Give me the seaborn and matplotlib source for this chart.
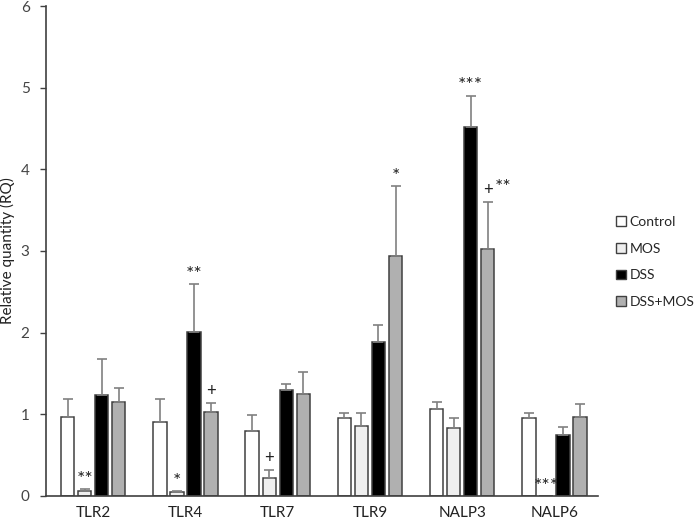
import pandas as pd
import numpy as np
import matplotlib.pyplot as plt
import seaborn as sns
from matplotlib.patches import Patch

genes = ['TLR2', 'TLR4', 'TLR7', 'TLR9', 'NALP3', 'NALP6']
groups = ['Control', 'MOS', 'DSS', 'DSS+MOS']

control = [0.97, 0.90, 0.79, 0.96, 1.06, 0.96]
mos = [0.06, 0.05, 0.22, 0.85, 0.83, 0.0]
dss = [1.24, 2.01, 1.30, 1.88, 4.52, 0.75]
dss_mos = [1.15, 1.03, 1.25, 2.94, 3.02, 0.97]

control_err = [0.22, 0.29, 0.20, 0.05, 0.09, 0.06]
mos_err = [0.02, 0.01, 0.10, 0.16, 0.12, 0.0]
dss_err = [0.44, 0.58, 0.07, 0.21, 0.38, 0.09]
dss_mos_err = [0.17, 0.11, 0.27, 0.85, 0.58, 0.16]

# significance marks, per group then gene
control_sig = ['', '', '', '', '', '']
mos_sig = ['**', '*', '+', '', '', '***']
dss_sig = ['', '**', '', '', '***', '']
dss_mos_sig = ['', '+', '', '*', '+ **', '']

colors = ['#ffffff', '#efefef', '#000000', '#b0b0b0']

values = [control, mos, dss, dss_mos]
errors = [control_err, mos_err, dss_err, dss_mos_err]
sigs = [control_sig, mos_sig, dss_sig, dss_mos_sig]

rows = []
for g, vals in zip(groups, values):
    for gene, v in zip(genes, vals):
        rows.append({'gene': gene, 'group': g, 'RQ': v})
df = pd.DataFrame(rows)

sns.set_style('white')
plt.rcParams['font.family'] = ['Lato', 'DejaVu Sans']

fig = plt.figure(figsize=(7, 5.22), dpi=100)
ax = fig.add_axes([0.066, 0.05, 0.788, 0.9385])

sns.barplot(data=df, x='gene', y='RQ', hue='group', hue_order=groups,
            palette=colors, width=0.74, gap=0.22, errorbar=None,
            edgecolor='#404040', linewidth=1.1, legend=False, ax=ax)


def put_mark(xc, y, m):
    # stars drawn a bit bigger, "+" normal size
    if m.startswith('+ '):
        ax.annotate('+', (xc, y), xytext=(0, 3), textcoords='offset points',
                    ha='center', va='bottom', fontsize=12, color='#222222')
        ax.annotate(m[2:], (xc, y), xytext=(5, 4), textcoords='offset points',
                    ha='left', va='bottom', fontsize=14, color='#222222')
    elif m.startswith('*'):
        ax.annotate(m, (xc, y), xytext=(0, 1), textcoords='offset points',
                    ha='center', va='bottom', fontsize=14, color='#222222')
    else:
        ax.annotate(m, (xc, y), xytext=(0, 3), textcoords='offset points',
                    ha='center', va='bottom', fontsize=12, color='#222222')


for cont, errs, marks in zip(ax.containers, errors, sigs):
    for bar, e, m in zip(cont.patches, errs, marks):
        xc = bar.get_x() + bar.get_width() / 2
        h = bar.get_height()
        if e > 0:
            ax.errorbar(xc, h, yerr=[[0], [e]], fmt='none', ecolor='#808080',
                        elinewidth=1.2, capsize=3.5, capthick=1.2)
        if m:
            put_mark(xc, h + e, m)

ax.set_ylim(0, 6)
ax.set_xlim(-0.51, 5.47)
ax.set_yticks([0, 1, 2, 3, 4, 5, 6])
ax.set_xlabel('')
ax.set_ylabel('Relative quantity (RQ)', fontsize=11, color='#222222')
ax.tick_params(axis='y', left=True, length=4, width=1, color='#404040',
               labelsize=11, labelcolor='#444444', pad=8)
ax.tick_params(axis='x', bottom=False, labelsize=11, labelcolor='#222222', pad=4)
for s in ['top', 'right']:
    ax.spines[s].set_visible(False)
for s in ['left', 'bottom']:
    ax.spines[s].set_color('#404040')
    ax.spines[s].set_linewidth(1.2)

handles = [Patch(facecolor=c, edgecolor='#404040', label=g) for c, g in zip(colors, groups)]
fig.legend(handles=handles, loc='upper left', bbox_to_anchor=(0.862, 0.61),
           frameon=False, fontsize=10, handlelength=0.7, handleheight=0.7,
           handletextpad=0.3, labelspacing=1.05)

fig.savefig('out.png', dpi=100)
